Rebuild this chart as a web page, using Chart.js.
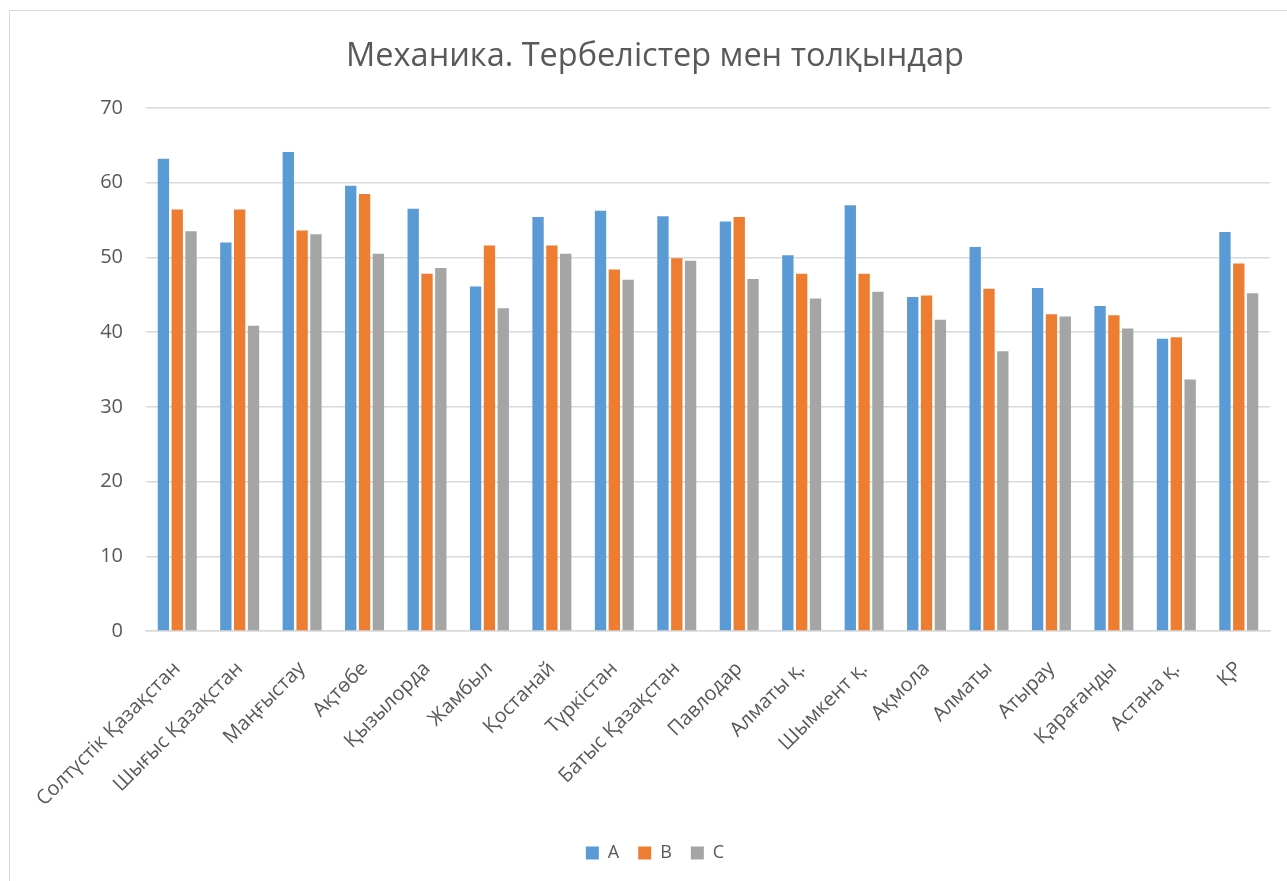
<!DOCTYPE html>
<html lang="kk">
<head>
    <meta charset="UTF-8">
    <title>Механика. Тербелістер мен толқындар</title>
    <script src="https://cdn.jsdelivr.net/npm/chart.js"></script>
    <style>
        body {
            margin: 0;
            background: #fff;
            overflow: hidden;
        }
        .frame {
            position: absolute;
            left: 9px;
            top: 10px;
            width: 1290px;
            height: 880px;
            border: 1px solid #d9d9d9;
        }
    </style>
</head>
<body>
    <div class="frame">
        <canvas id="myChart" width="1290" height="870"></canvas>
    </div>

    <script>
        // регион атаулары
        const regions = ['Солтүстік Қазақстан', 'Шығыс Қазақстан', 'Маңғыстау', 'Ақтөбе', 'Қызылорда', 'Жамбыл',
            'Қостанай', 'Түркістан', 'Батыс Қазақстан', 'Павлодар', 'Алматы қ.', 'Шымкент қ.',
            'Ақмола', 'Алматы', 'Атырау', 'Қарағанды', 'Астана қ.', 'ҚР'];

        const seriesA = [63.2, 52.0, 64.1, 59.6, 56.5, 46.1, 55.4, 56.25, 55.5, 54.8, 50.3, 57.0, 44.7, 51.4, 45.9, 43.5, 39.1, 53.4];
        const seriesB = [56.4, 56.4, 53.6, 58.5, 47.8, 51.6, 51.6, 48.4, 49.9, 55.4, 47.8, 47.8, 44.9, 45.8, 42.4, 42.25, 39.3, 49.2];
        const seriesC = [53.5, 40.85, 53.1, 50.5, 48.6, 43.2, 50.5, 47.0, 49.55, 47.1, 44.5, 45.4, 41.65, 37.45, 42.1, 40.5, 33.65, 45.2];

        const yTicks = [0, 10, 20, 30, 40, 50, 60, 70];

        const textColor = '#595959';
        const gridColor = '#d9d9d9';
        const font = "'Open Sans', 'Noto Sans', sans-serif";

        const ctx = document.getElementById('myChart').getContext('2d');

        const myChart = new Chart(ctx, {
            type: 'bar',
            data: {
                labels: regions,
                datasets: [
                    { label: 'A', data: seriesA, backgroundColor: '#5b9bd5' },
                    { label: 'B', data: seriesB, backgroundColor: '#ed7d31' },
                    { label: 'C', data: seriesC, backgroundColor: '#a5a5a5' }
                ]
            },
            options: {
                responsive: false,
                animation: false,
                categoryPercentage: 0.664,
                barPercentage: 0.82,
                layout: { padding: { left: 0, right: 0, top: 0, bottom: 9 } },
                plugins: {
                    title: {
                        display: true,
                        text: 'Механика. Тербелістер мен толқындар',
                        color: textColor,
                        font: { family: font, size: 32.5, weight: 'normal' },
                        padding: { top: 26, bottom: 32 }
                    },
                    legend: {
                        position: 'bottom',
                        labels: {
                            color: textColor,
                            font: { family: font, size: 18 },
                            boxWidth: 13,
                            boxHeight: 13,
                            padding: 19
                        }
                    },
                    tooltip: { enabled: false }
                },
                scales: {
                    x: {
                        grid: { display: false },
                        border: { display: true, color: gridColor, width: 1.5 },
                        ticks: {
                            color: textColor,
                            font: { family: font, size: 20 },
                            minRotation: 45,
                            maxRotation: 45,
                            autoSkip: false,
                            padding: 18
                        },
                        afterFit: (scale) => { scale.height = 194; }
                    },
                    y: {
                        min: 0,
                        max: 70,
                        afterBuildTicks: (scale) => { scale.ticks = yTicks.map(v => ({ value: v })); },
                        grid: { color: gridColor, lineWidth: 1.5, drawTicks: false },
                        border: { display: false },
                        ticks: {
                            color: textColor,
                            font: { family: font, size: 20 },
                            padding: 23
                        },
                        afterFit: (scale) => { scale.width = 136; }
                    },
                    // пустая ось справа, чтобы заголовок был по центру
                    yRight: {
                        position: 'right',
                        display: true,
                        grid: { display: false },
                        border: { display: false },
                        ticks: { display: false },
                        afterFit: (scale) => { scale.width = 30; }
                    }
                }
            }
        });
    </script>
</body>
</html>
